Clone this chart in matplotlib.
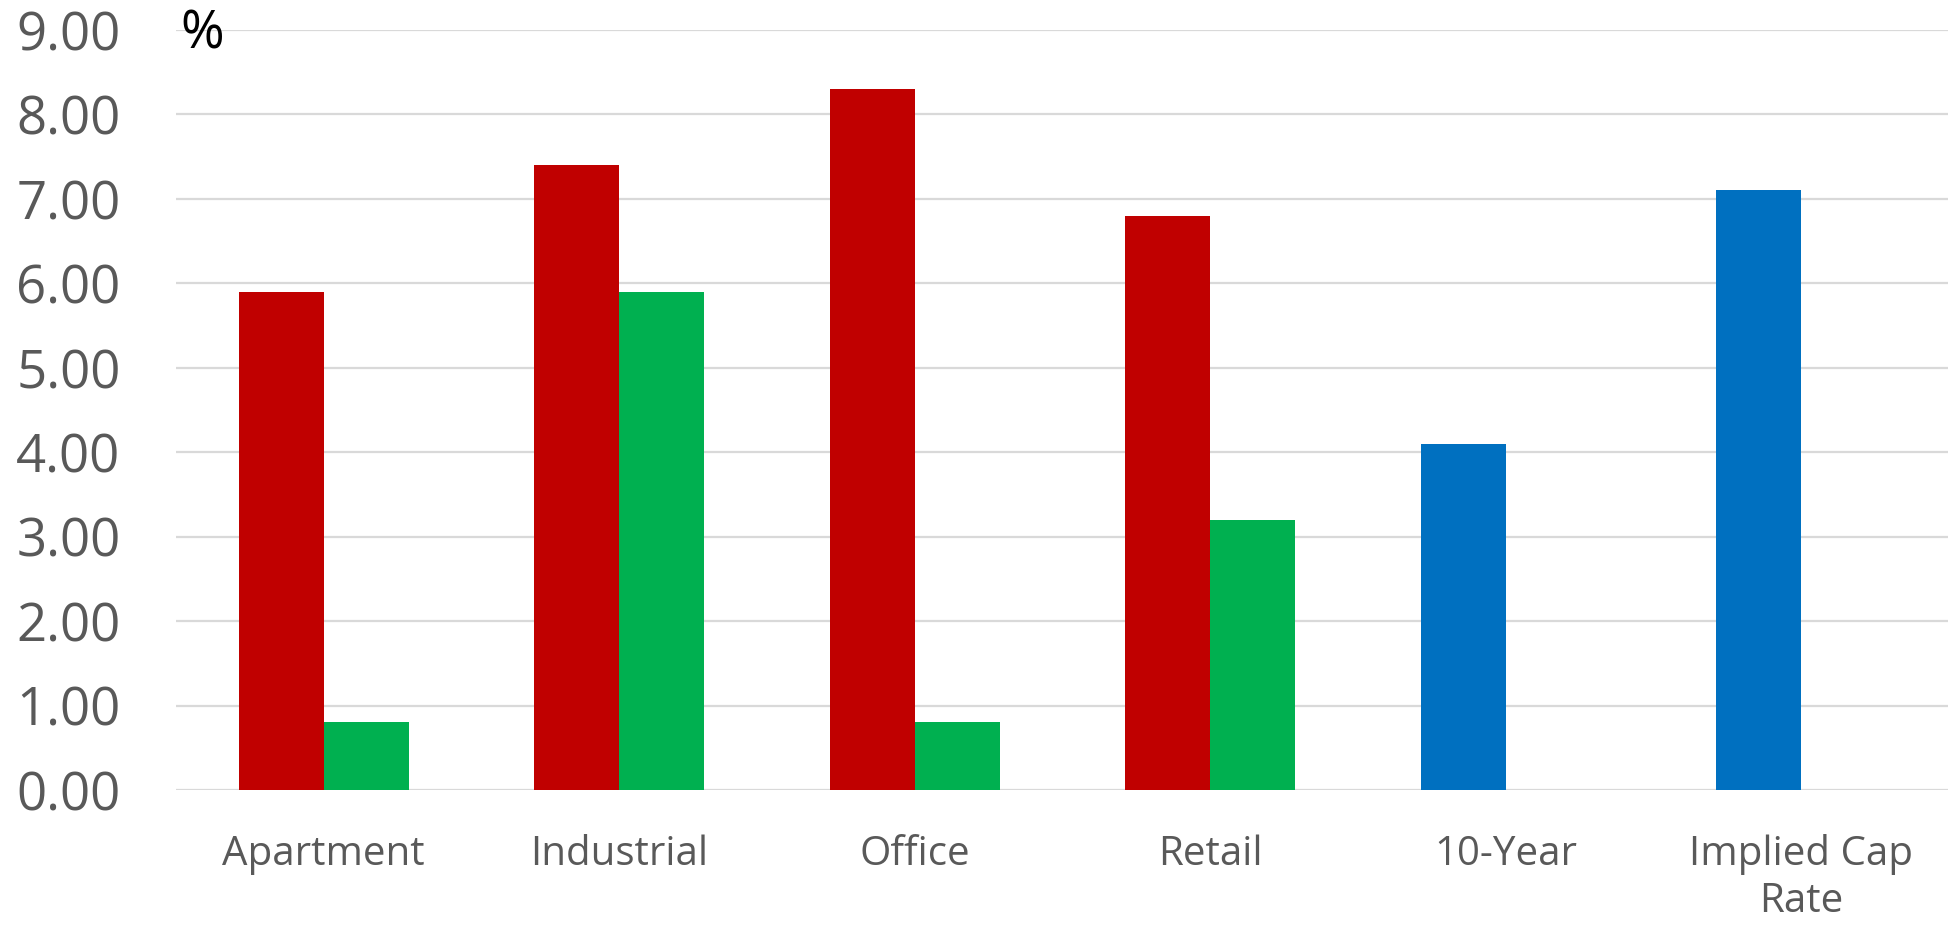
import matplotlib.pyplot as plt
import numpy as np

# data
categories = ["Apartment", "Industrial", "Office", "Retail", "10-Year", "Implied Cap\nRate"]
first_vals = [5.9, 7.4, 8.3, 6.8, 4.1, 7.1]
second_vals = [0.8, 5.9, 0.8, 3.2, np.nan, np.nan]
first_colors = ["#C00000", "#C00000", "#C00000", "#C00000", "#0070C0", "#0070C0"]
yticks = [0, 1, 2, 3, 4, 5, 6, 7, 8, 9]

plt.rcParams['font.family'] = ['Open Sans', 'DejaVu Sans']

fig = plt.figure(figsize=(19.49, 9.30), dpi=100)
ax = fig.add_axes([0.0903, 0.1505, 0.9097, 0.8172])

x = np.arange(len(categories))
w = 0.287
ax.bar(x - w / 2, first_vals, w, color=first_colors, zorder=3)
ax.bar(x + w / 2, second_vals, w, color="#00B050", zorder=3)

ax.set_xlim(-0.5, len(categories) - 0.5)
ax.set_ylim(0, 9)
ax.set_yticks(yticks)
ax.set_yticklabels(["%.2f" % v for v in yticks])
ax.set_xticks(x)
ax.set_xticklabels(categories, linespacing=1.2)

ax.grid(axis="y", color="#D9D9D9", linewidth=1.6, zorder=0)
ax.set_axisbelow(True)
for s in ax.spines.values():
    s.set_visible(False)

ax.tick_params(axis="y", length=0, pad=40, labelsize=38, labelcolor="#595959")
ax.tick_params(axis="x", length=0, pad=32, labelsize=29, labelcolor="#595959")

# percent sign sits just above the top gridline
fig.text(180 / 1949, 1 - 8 / 930, "%", fontsize=38, color="black",
         ha="left", va="top")

fig.savefig("out.png", dpi=100)
